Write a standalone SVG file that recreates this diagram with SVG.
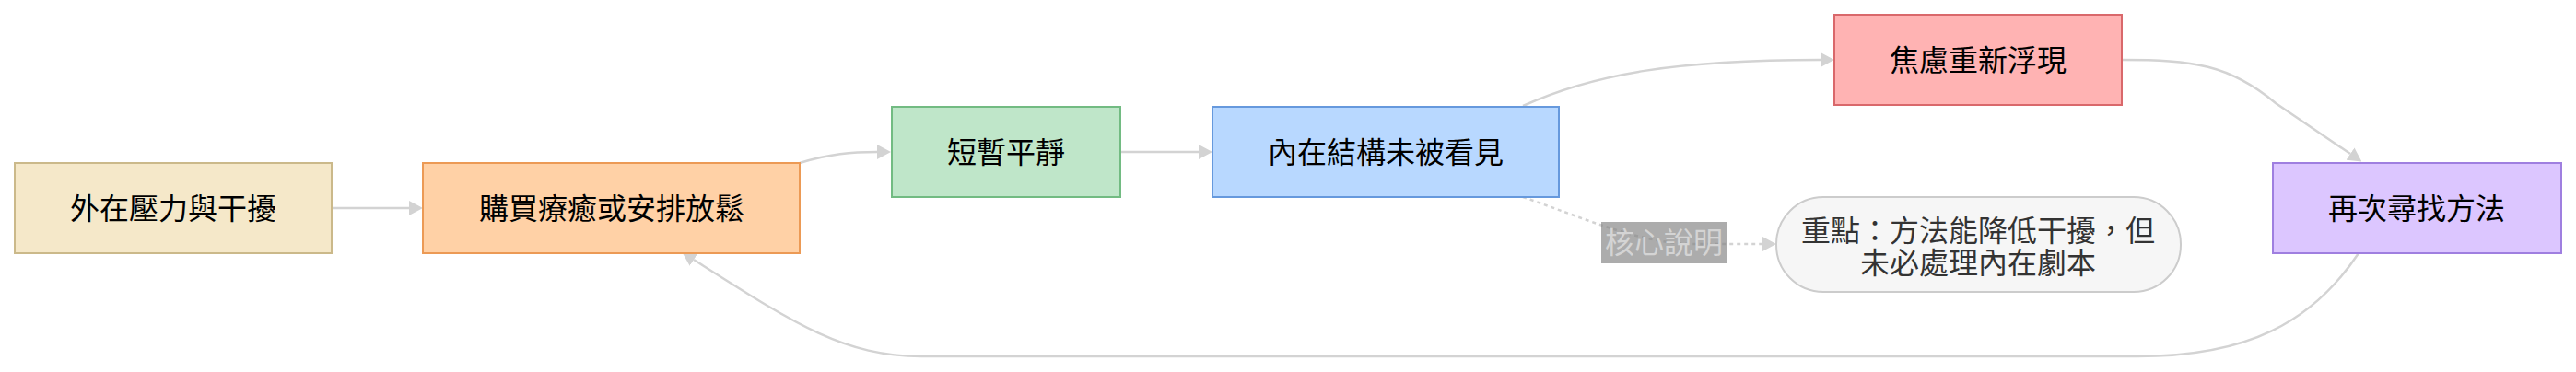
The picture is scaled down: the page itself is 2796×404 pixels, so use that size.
<svg xmlns="http://www.w3.org/2000/svg" width="2796" height="404" viewBox="0 0 2796 404">
<style>
text{font-family:"Noto Sans CJK TC","Noto Sans CJK SC",sans-serif;font-size:32px;text-anchor:middle;fill:#000}
.edge{fill:none;stroke:#d3d3d3;stroke-width:2.5}
.dot{stroke-dasharray:4 4}
.node rect{stroke-width:2}
.note text{fill:#333}
.lbl text{fill:#d4d4d4}
</style>
<defs>
<marker id="ah" viewBox="0 0 15 16" refX="0" refY="8" markerWidth="15" markerHeight="16" markerUnits="userSpaceOnUse" orient="auto">
<path d="M0,0 L15,8 L0,16 z" fill="#d3d3d3"/>
</marker>
</defs>
<g id="connectors">
<path class="edge" d="M361,226 L444,226" marker-end="url(#ah)"/>
<path class="edge" d="M868,177 C900,167 925,165 952,165" marker-end="url(#ah)"/>
<path class="edge" d="M1216,165 L1301,165" marker-end="url(#ah)"/>
<path class="edge" d="M1653,115 C1730,80 1820,65 1976,65" marker-end="url(#ah)"/>
<path class="edge" d="M2303,65 C2380,65 2420,70 2470,112 L2551,167" marker-end="url(#ah)"/>
<path class="edge" d="M2560,275 C2510,350 2440,387 2320,387 L1000,387 C915,387 860,350 753,282" marker-end="url(#ah)"/>
<path class="edge dot" d="M1653,214 C1720,237 1780,265 1840,265 L1913,265" marker-end="url(#ah)"/>
</g>
<g id="edge-label" class="lbl">
<rect x="1738" y="241" width="136" height="45" fill="#808080" fill-opacity="0.65"/>
<text x="1806" y="275">核心說明</text>
</g>
<g id="n1" class="node">
<rect x="16" y="177" width="344" height="98" fill="#f5e8c9" stroke="#cbb98a"/>
<text x="188" y="238">外在壓力與干擾</text>
</g>
<g id="n2" class="node">
<rect x="459" y="177" width="409" height="98" fill="#ffd1a6" stroke="#ec9a55"/>
<text x="664" y="238">購買療癒或安排放鬆</text>
</g>
<g id="n3" class="node">
<rect x="968" y="116" width="248" height="98" fill="#bfe6c9" stroke="#72bb82"/>
<text x="1092" y="177">短暫平靜</text>
</g>
<g id="n4" class="node">
<rect x="1316" y="116" width="376" height="98" fill="#b8d8ff" stroke="#6699dd"/>
<text x="1504" y="177">內在結構未被看見</text>
</g>
<g id="n5" class="node">
<rect x="1991" y="16" width="312" height="98" fill="#ffb3b3" stroke="#d9686b"/>
<text x="2147" y="77">焦慮重新浮現</text>
</g>
<g id="n6" class="node">
<rect x="2467" y="177" width="313" height="98" fill="#dcc6ff" stroke="#9f7fe0"/>
<text x="2623" y="238">再次尋找方法</text>
</g>
<g id="note" class="node note">
<rect x="1928" y="214" width="439" height="103" rx="51" ry="51" fill="#f6f6f6" stroke="#cccccc"/>
<text x="2147" y="262">重點：方法能降低干擾，但</text>
<text x="2147" y="297">未必處理內在劇本</text>
</g>
</svg>
